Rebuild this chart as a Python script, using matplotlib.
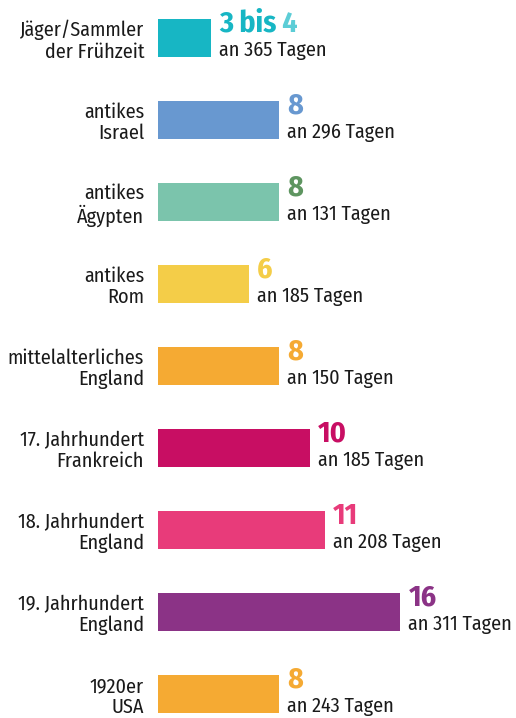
import matplotlib
matplotlib.use("Agg")
import matplotlib.pyplot as plt

# Categories (two-line labels), working hours per day, working days per year
categories = ["Jäger/Sammler\nder Frühzeit", "antikes\nIsrael", "antikes\nÄgypten",
              "antikes\nRom", "mittelalterliches\nEngland", "17. Jahrhundert\nFrankreich",
              "18. Jahrhundert\nEngland", "19. Jahrhundert\nEngland", "1920er\nUSA"]
hours = [3.5, 8, 8, 6, 8, 10, 11, 16, 8]
hour_labels = ["3 bis", "8", "8", "6", "8", "10", "11", "16", "8"]
days = [365, 296, 131, 185, 150, 185, 208, 311, 243]

bar_colors = ["#17b6c4", "#6898d0", "#7bc4ac", "#f4cd48", "#f5aa33",
              "#c80e63", "#e83b7a", "#8b3386", "#f5aa33"]
num_colors = ["#17b6c4", "#6898d0", "#5e9560", "#f4cd48", "#f5aa33",
              "#c80e63", "#e83b7a", "#8b3386", "#f5aa33"]

plt.rcParams["font.family"] = ["Fira Sans Condensed", "DejaVu Sans"]

W, H = 516, 718
fig = plt.figure(figsize=(W / 100, H / 100), dpi=100)
x0 = 158
ax = fig.add_axes([x0 / W, 0, 1 - x0 / W, 1])
px_per_unit = 15.15
ax.set_xlim(0, (W - x0) / px_per_unit)
row = 82.0
ax.set_ylim((H - 38) / row, -38 / row)

y = list(range(len(categories)))
ax.barh(y, hours, height=38 / row, color=bar_colors)

ax.set_yticks(y)
ax.set_yticklabels(categories, fontsize=14.5, color="#1a1a1a", linespacing=1.1)
ax.tick_params(axis="y", length=0, pad=10)
ax.set_xticks([])
for s in ax.spines.values():
    s.set_visible(False)

for i, (h, lab, d) in enumerate(zip(hours, hour_labels, days)):
    t = ax.annotate(lab, xy=(h, i), xytext=(8, 6), textcoords="offset pixels",
                    fontsize=21.5, fontweight="bold", color=num_colors[i],
                    ha="left", va="baseline")
    if i == 0:
        ax.annotate(" 4", xy=(1, 0), xycoords=t, fontsize=21.5, fontweight="bold",
                    color="#5ccdd6", ha="left", va="bottom")
    ax.annotate(f"an {d} Tagen", xy=(h, i), xytext=(8, -18), textcoords="offset pixels",
                fontsize=14.5, color="#1a1a1a", ha="left", va="baseline")

fig.savefig("out.png", dpi=100)
